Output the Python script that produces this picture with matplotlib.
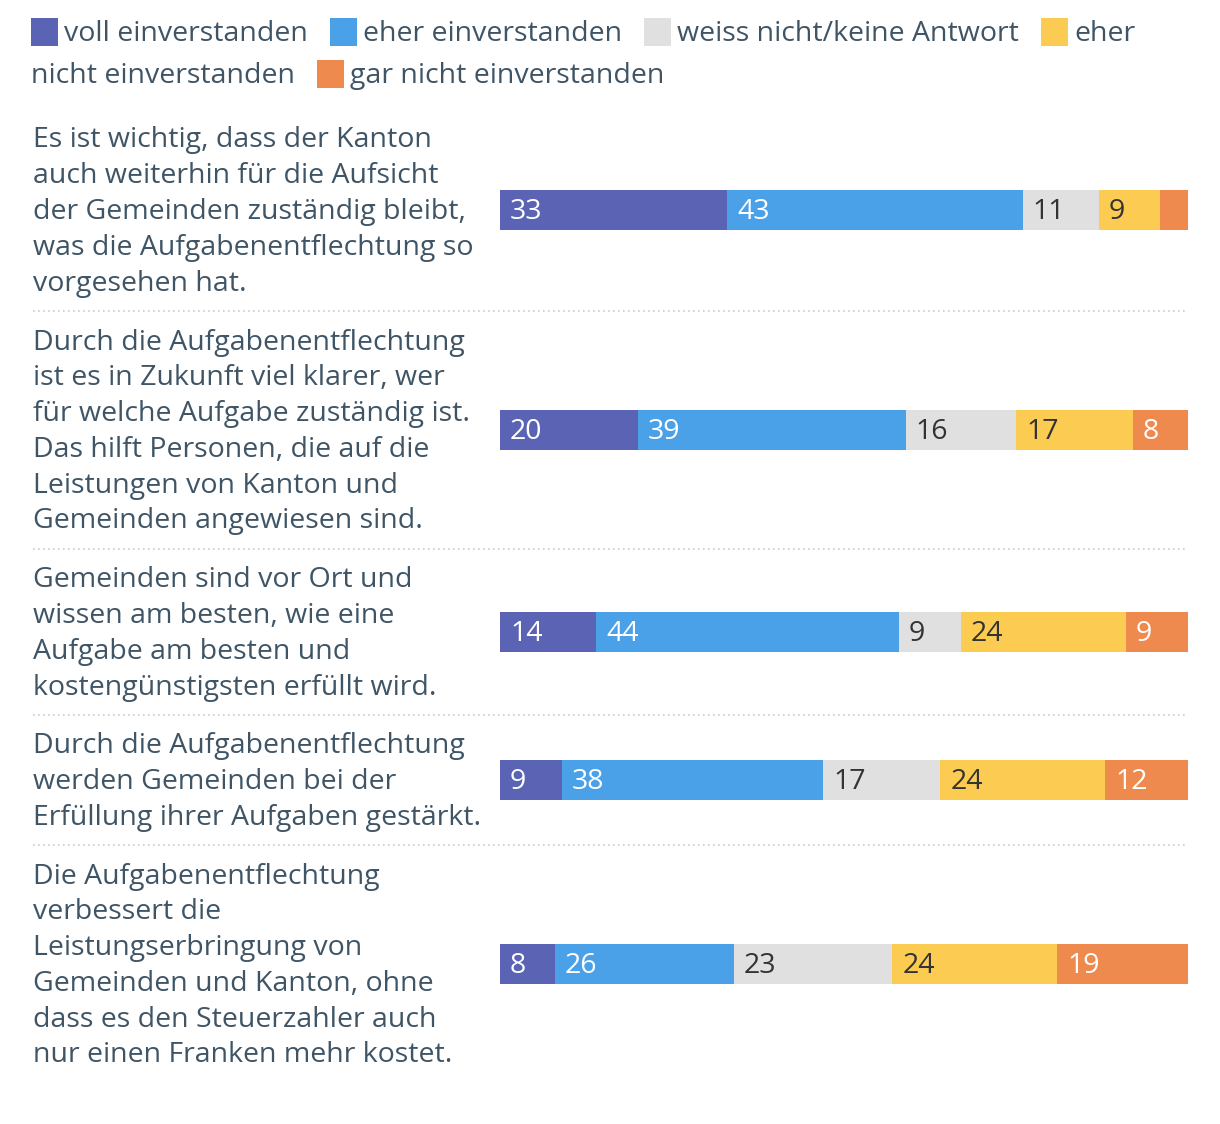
import numpy as np
import matplotlib.pyplot as plt
import matplotlib.transforms as mtransforms
from matplotlib.patches import Rectangle

plt.rcParams['font.family'] = ['Open Sans', 'DejaVu Sans']

# --- data ---
statements = [
    "Es ist wichtig, dass der Kanton\nauch weiterhin für die Aufsicht\nder Gemeinden zuständig bleibt,\nwas die Aufgabenentflechtung so\nvorgesehen hat.",
    "Durch die Aufgabenentflechtung\nist es in Zukunft viel klarer, wer\nfür welche Aufgabe zuständig ist.\nDas hilft Personen, die auf die\nLeistungen von Kanton und\nGemeinden angewiesen sind.",
    "Gemeinden sind vor Ort und\nwissen am besten, wie eine\nAufgabe am besten und\nkostengünstigsten erfüllt wird.",
    "Durch die Aufgabenentflechtung\nwerden Gemeinden bei der\nErfüllung ihrer Aufgaben gestärkt.",
    "Die Aufgabenentflechtung\nverbessert die\nLeistungserbringung von\nGemeinden und Kanton, ohne\ndass es den Steuerzahler auch\nnur einen Franken mehr kostet.",
]
categories = ["voll einverstanden", "eher einverstanden", "weiss nicht/keine Antwort",
              "eher nicht einverstanden", "gar nicht einverstanden"]
voll = [33, 20, 14, 9, 8]
eher = [43, 39, 44, 38, 26]
weiss = [11, 16, 9, 17, 23]
eher_nicht = [9, 17, 24, 24, 24]
gar_nicht = [4, 8, 9, 12, 19]

colors = ['#5b64b4', '#4ba1e8', '#e0e0e0', '#fccc52', '#ee8a4e']
label_colors = ['white', 'white', '#333333', '#333333', 'white']
text_col = '#3f5566'
fs = 20.5

W, H = 1220, 1124
fig = plt.figure(figsize=(W / 100, H / 100), dpi=100)
ax = fig.add_axes([500 / W, 0, 688 / W, 1])
ax.set_xlim(0, 100)
ax.set_ylim(H, 0)
ax.axis('off')

# pixel coords with top-left origin
pix = mtransforms.Affine2D().scale(1 / W, -1 / H).translate(0, 1) + fig.transFigure
lab_tr = mtransforms.blended_transform_factory(fig.transFigure, ax.transData)

# row layout from number of label lines
centers, seps = [], []
y0 = 109
for s in statements:
    n = s.count('\n') + 1
    h = 36 * n + 22
    centers.append(y0 + h / 2)
    seps.append(y0 + h)
    y0 += h
seps = seps[:-1]

series = [voll, eher, weiss, eher_nicht, gar_nicht]
lefts = np.zeros(len(statements))
off = mtransforms.offset_copy(ax.transData, fig=fig, x=10, y=-2, units='dots')
for vals, col, lc in zip(series, colors, label_colors):
    vals = np.array(vals, dtype=float)
    ax.barh(centers, vals, left=lefts, height=40, color=col, linewidth=0)
    for l, v, c in zip(lefts, vals, centers):
        if v >= 5:
            ax.text(l, c, f"{int(v)}", transform=off, va='center', ha='left',
                    color=lc, fontsize=fs)
    lefts += vals

for s, c in zip(statements, centers):
    ax.text(33 / W, c + 2, s, transform=lab_tr, va='center', ha='left',
            fontsize=fs, color=text_col, linespacing=1.37)

for y in seps:
    ax.plot([33 / W, 1188 / W], [y, y], transform=lab_tr, clip_on=False,
            color='#cccccc', lw=1.2, ls=(0, (1, 2)))

# legend, laid out like wrapped html text
renderer = fig.canvas.get_renderer()
x, y = 31, 32
right = 1188

def put(txt, x, y):
    return fig.text(x, y + 2, txt, transform=pix, va='center', ha='left',
                    fontsize=fs, color=text_col)

for name, col in zip(categories, colors):
    fig.add_artist(Rectangle((x, y - 14), 27, 28, transform=pix, color=col, lw=0))
    x += 33
    t = put(name, x, y)
    w = t.get_window_extent(renderer).width
    if x + w > right:
        t.remove()
        words = name.split()
        k = len(words)
        while k > 0:
            t = put(' '.join(words[:k]), x, y)
            if x + t.get_window_extent(renderer).width <= right:
                break
            t.remove()
            k -= 1
        x, y = 31, y + 42
        t = put(' '.join(words[k:]), x, y)
        w = t.get_window_extent(renderer).width
    x += w + 22

fig.savefig('out.png', dpi=100, facecolor='white')
